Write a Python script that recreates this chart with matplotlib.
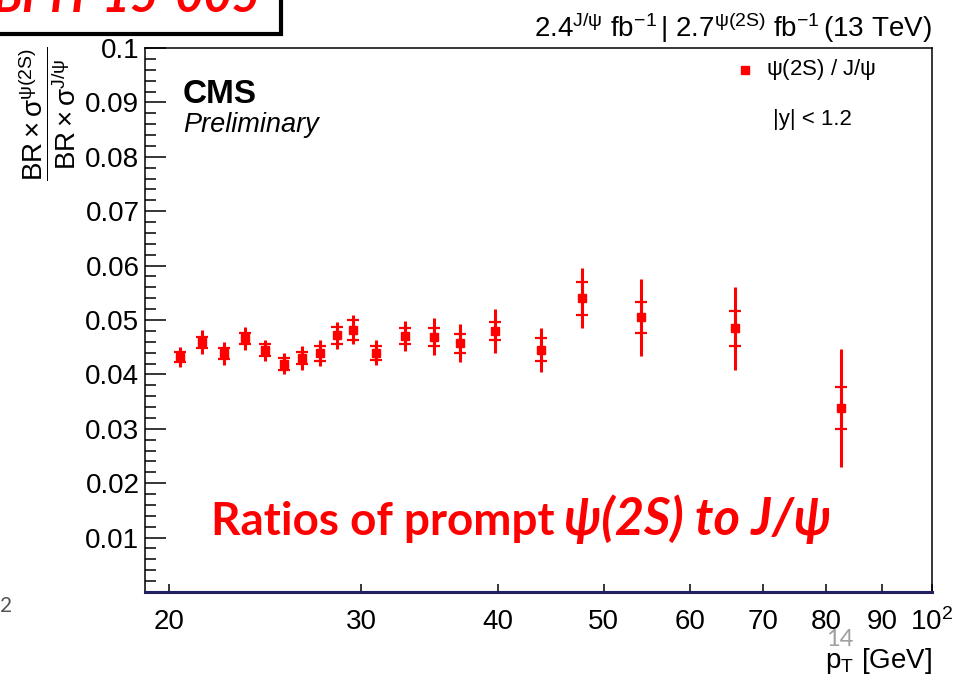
import matplotlib
matplotlib.use("Agg")
import matplotlib.pyplot as plt
from matplotlib.lines import Line2D
from matplotlib.patches import Rectangle
from matplotlib.ticker import FixedLocator, FixedFormatter, NullLocator

plt.rcParams['font.family'] = ['Liberation Sans', 'DejaVu Sans']
plt.rcParams['mathtext.fontset'] = 'custom'
plt.rcParams['mathtext.rm'] = 'Liberation Sans'
plt.rcParams['mathtext.it'] = 'Liberation Sans:italic'
plt.rcParams['mathtext.bf'] = 'Liberation Sans:bold'
plt.rcParams['mathtext.sf'] = 'Liberation Sans'

# psi(2S)/J/psi ratio vs pT, |y| < 1.2
pt = [20.45, 21.43, 22.46, 23.48, 24.47, 25.46, 26.46, 27.46, 28.47, 29.45,
      30.92, 32.92, 34.94, 36.91, 39.77, 43.79, 47.83, 54.15, 66.04, 82.61]
ratio = [0.0432, 0.0459, 0.0439, 0.0466, 0.0444, 0.0420, 0.0430, 0.0439, 0.0472, 0.0482,
         0.0440, 0.0471, 0.0469, 0.0457, 0.0480, 0.0445, 0.0540, 0.0505, 0.0485, 0.0338]
err_stat = [0.0009, 0.0010, 0.0010, 0.0010, 0.0011, 0.0011, 0.0011, 0.0014, 0.0016, 0.0018,
            0.0013, 0.0015, 0.0017, 0.0017, 0.0016, 0.0021, 0.0030, 0.0028, 0.0032, 0.0039]
err_tot = [0.0019, 0.0022, 0.0021, 0.0021, 0.0020, 0.0020, 0.0022, 0.0024, 0.0025, 0.0027,
           0.0023, 0.0028, 0.0034, 0.0035, 0.0040, 0.0041, 0.0055, 0.0071, 0.0076, 0.0108]

y_ticks = [0.01, 0.02, 0.03, 0.04, 0.05, 0.06, 0.07, 0.08, 0.09, 0.1]
y_labels = ['0.01', '0.02', '0.03', '0.04', '0.05', '0.06', '0.07', '0.08', '0.09', '0.1']
x_ticks = [20, 30, 40, 50, 60, 70, 80, 90, 100]
x_labels = ['20', '30', '40', '50', '60', '70', '80', '90', r'$10^{2}$']

W, H = 969, 690
fig = plt.figure(figsize=(W / 100, H / 100), dpi=100)
ax = fig.add_axes([145 / W, 98 / H, 787 / W, 544 / H])

ax.set_xscale('log')
ax.set_xlim(19.0, 100)
ax.set_ylim(0, 0.1)

# total uncertainty, then stat with small caps
ax.errorbar(pt, ratio, yerr=err_tot, fmt='none', ecolor='red', elinewidth=2.2)
ax.errorbar(pt, ratio, yerr=err_stat, fmt='s', color='red', ms=5.5,
            elinewidth=2.2, capsize=4, capthick=1.6)

ax.yaxis.set_major_locator(FixedLocator(y_ticks))
ax.yaxis.set_major_formatter(FixedFormatter(y_labels))
ax.yaxis.set_minor_locator(FixedLocator([i * 0.002 for i in range(51)]))
ax.xaxis.set_major_locator(FixedLocator(x_ticks))
ax.xaxis.set_major_formatter(FixedFormatter(x_labels))
ax.xaxis.set_minor_locator(NullLocator())

ax.tick_params(axis='y', which='major', direction='in', length=15, width=1.1,
               labelsize=20, pad=4)
ax.tick_params(axis='y', which='minor', direction='in', length=8, width=1.1)
ax.tick_params(axis='x', which='major', direction='in', length=6, width=1.1,
               labelsize=20, pad=12)

for s in ['top', 'right', 'left']:
    ax.spines[s].set_linewidth(1.1)
ax.spines['bottom'].set_color('#202060')
ax.spines['bottom'].set_linewidth(2.2)

# CMS label
ax.text(183 / W, 1 - 103 / H, 'CMS', transform=fig.transFigure,
        fontsize=24, fontweight='bold', va='baseline')
ax.text(183 / W, 1 - 132 / H, 'Preliminary', transform=fig.transFigure,
        fontsize=19.5, style='italic', va='baseline')

# lumi label
fig.text(932 / W, 1 - 37 / H,
         r'$\mathrm{2.4^{J/ψ}\ fb^{-1}\,|\ 2.7^{ψ(2S)}\ fb^{-1}\,(13\ TeV)}$',
         fontsize=20, ha='right', va='baseline')

# legend
fig.add_artist(Line2D([745 / W], [1 - 70 / H], marker='s', color='red', ms=5.5,
                      transform=fig.transFigure))
fig.text(766 / W, 1 - 70 / H, r'$\mathrm{ψ(2S)\ /\ J/ψ}$', fontsize=16,
         va='center')
fig.text(773 / W, 1 - 120 / H, '|y| < 1.2', fontsize=16, va='center')

# axis titles
fig.text(932 / W, 1 - 668 / H, r'$\mathrm{p_{T}}$ [GeV]', fontsize=20,
         ha='right', va='baseline')
fig.text(47 / W, 1 - 46 / H,
         r'$\dfrac{\mathrm{BR}\times\mathrm{σ}^{\mathrm{ψ(2S)}}}{\mathrm{BR}\times\mathrm{σ}^{\mathrm{J/ψ}}}$',
         fontsize=20, rotation=90, ha='center', va='top')

# overlay title
ren = fig.canvas.get_renderer()
t1 = fig.text(211 / W, 1 - 535 / H, 'Ratios of prompt', fontsize=33,
              fontweight='bold', color='red', va='baseline',
              family=['Lato', 'DejaVu Sans'])
bb = t1.get_window_extent(renderer=ren)
fig.text((bb.x1 + 9) / W, 1 - 535 / H, 'ψ(2S) to J/ψ', fontsize=36.5,
         fontweight='bold', style='italic', color='red', va='baseline',
         family=['Lato', 'DejaVu Sans'])

# report number box at the top
fig.add_artist(Rectangle((-10 / W, 1 - 34 / H), 291 / W, 60 / H,
                         transform=fig.transFigure, facecolor='white',
                         edgecolor='black', linewidth=3))
fig.text(-8 / W, 1 - 12 / H, 'BPH-15-005', fontsize=35, fontweight='bold',
         style='italic', color='red', va='baseline',
         family=['Lato', 'DejaVu Sans'])

# slide page number and leftover label
fig.text(826 / W, 1 - 646 / H, '14', fontsize=17, color='#a0a0a0',
         va='baseline', family=['Lato', 'DejaVu Sans'])
fig.text(0, 1 - 612 / H, '2', fontsize=15, color='#555555', va='baseline',
         family=['Lato', 'DejaVu Sans'])

fig.savefig('out.png', dpi=100)
